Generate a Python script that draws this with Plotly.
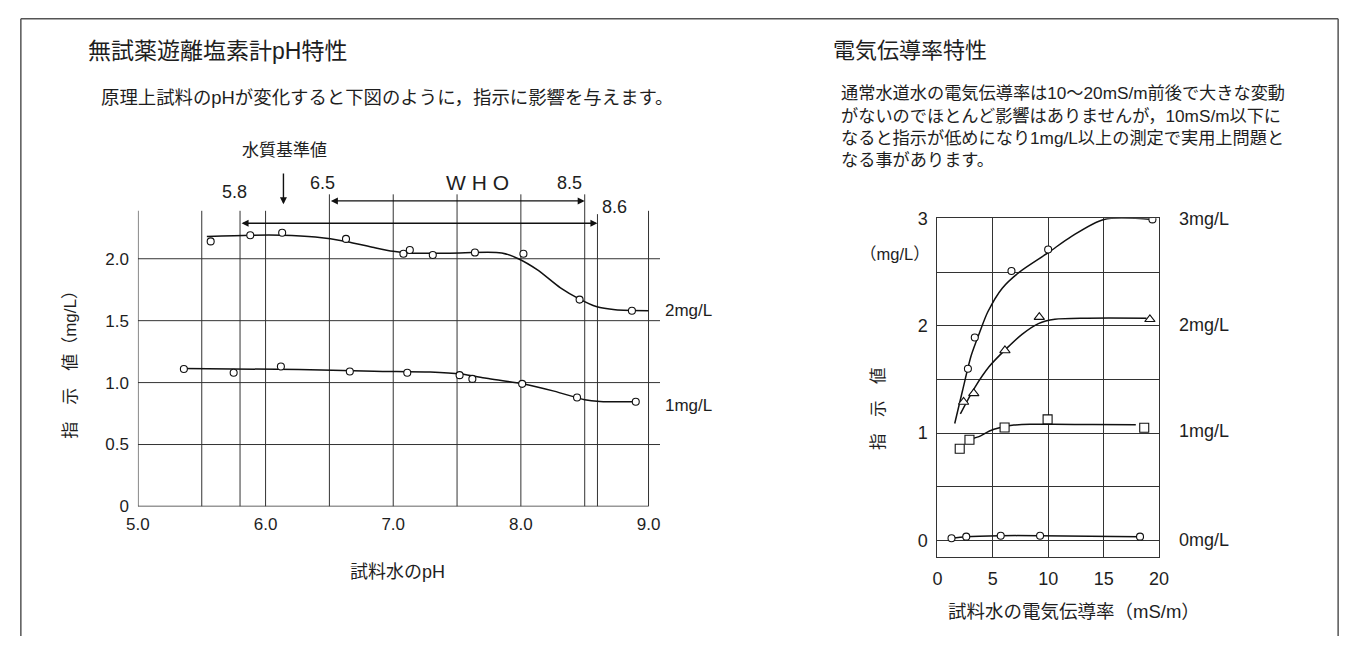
import plotly.graph_objects as go

# ---------------- data: left chart (pH characteristics) ----------------
ph_2mg_pts = [5.57, 5.88, 6.13, 6.63, 7.08, 7.13, 7.31, 7.64, 8.02, 8.46, 8.87]
val_2mg_pts = [2.14, 2.19, 2.21, 2.16, 2.04, 2.07, 2.03, 2.05, 2.04, 1.67, 1.58]
ph_2mg_curve = [5.54, 5.88, 6.13, 6.39, 6.63, 6.85, 7.00, 7.14, 7.44, 7.85, 7.98, 8.13, 8.31, 8.46, 8.59, 8.74, 9.00]
val_2mg_curve = [2.18, 2.19, 2.19, 2.175, 2.14, 2.09, 2.06, 2.045, 2.045, 2.047, 2.0, 1.91, 1.765, 1.674, 1.614, 1.588, 1.581]

ph_1mg_pts = [5.36, 5.75, 6.12, 6.66, 7.11, 7.52, 7.62, 8.01, 8.44, 8.90]
val_1mg_pts = [1.11, 1.08, 1.13, 1.09, 1.08, 1.06, 1.03, 0.99, 0.88, 0.845]
ph_1mg_curve = [5.36, 6.26, 6.85, 7.29, 7.53, 7.73, 8.01, 8.26, 8.50, 8.62, 8.91]
val_1mg_curve = [1.113, 1.106, 1.092, 1.085, 1.069, 1.035, 0.991, 0.931, 0.861, 0.847, 0.845]

ph_ref_lines = [5.5, 5.8, 6.0, 6.5, 7.0, 7.5, 8.0, 8.5, 8.6, 9.0]
ph_ticks = [5.0, 6.0, 7.0, 8.0, 9.0]
ph_ticktext = ["5.0", "6.0", "7.0", "8.0", "9.0"]
left_yticks = [0, 0.5, 1.0, 1.5, 2.0]
left_yticktext = ["0", "0.5", "1.0", "1.5", "2.0"]

# ---------------- data: right chart (conductivity characteristics) ----------------
ec_3mg_pts = [2.75, 3.37, 6.68, 9.99, 19.4]
val_3mg_pts = [1.60, 1.89, 2.51, 2.71, 2.99]
ec_3mg_curve = [1.56, 2.25, 3.04, 3.78, 4.55, 5.85, 7.4, 9.99, 12.07, 15.02, 19.4]
val_3mg_curve = [1.09, 1.39, 1.72, 1.93, 2.13, 2.35, 2.50, 2.68, 2.83, 2.99, 2.99]

ec_2mg_pts = [2.36, 3.28, 6.09, 9.19, 19.17]
val_2mg_pts_r = [1.29, 1.37, 1.77, 2.08, 2.06]
ec_2mg_curve = [2.07, 3.34, 4.67, 6.15, 7.63, 9.11, 10.59, 13.54, 18.87]
val_2mg_curve_r = [1.18, 1.42, 1.62, 1.78, 1.92, 2.02, 2.06, 2.07, 2.07]

ec_1mg_pts = [2.01, 2.89, 6.06, 9.94, 18.66]
val_1mg_pts_r = [0.854, 0.939, 1.053, 1.128, 1.050]
ec_1mg_curve = [2.89, 3.9, 4.7, 5.6, 6.9, 8.5, 10.5, 14.0, 17.9]
val_1mg_curve_r = [0.94, 0.975, 1.02, 1.05, 1.075, 1.082, 1.082, 1.08, 1.078]

ec_0mg_pts = [1.27, 2.60, 5.71, 9.26, 18.28]
val_0mg_pts = [0.021, 0.036, 0.045, 0.045, 0.036]

ec_ticks = [0, 5, 10, 15, 20]
right_yticks = [0, 1, 2, 3]

# ---------------- figure ----------------
W, H = 1356, 646
FONT = "Liberation Sans, Arial, Noto Sans CJK JP, sans-serif"
INK = "#1e1e1e"
GRID = "#333333"


def px(x):
    return x / W


def py(y):
    return 1 - y / H


fig = go.Figure()

line_style = dict(color="#111111", width=1.5)
mk_circle = dict(symbol="circle", size=7, color="white", line=dict(color="#111111", width=1.1))

# left chart traces
fig.add_trace(go.Scatter(x=ph_2mg_curve, y=val_2mg_curve, mode="lines", line=dict(shape="spline", smoothing=0.8, **line_style),
                         xaxis="x", yaxis="y", showlegend=False, hoverinfo="skip"))
fig.add_trace(go.Scatter(x=ph_2mg_pts, y=val_2mg_pts, mode="markers", marker=mk_circle, xaxis="x", yaxis="y", showlegend=False))
fig.add_trace(go.Scatter(x=ph_1mg_curve, y=val_1mg_curve, mode="lines", line=dict(shape="spline", smoothing=0.8, **line_style),
                         xaxis="x", yaxis="y", showlegend=False, hoverinfo="skip"))
fig.add_trace(go.Scatter(x=ph_1mg_pts, y=val_1mg_pts, mode="markers", marker=mk_circle, xaxis="x", yaxis="y", showlegend=False))

# right chart traces
fig.add_trace(go.Scatter(x=ec_3mg_curve, y=val_3mg_curve, mode="lines", line=dict(shape="spline", smoothing=0.8, **line_style),
                         xaxis="x2", yaxis="y2", showlegend=False, hoverinfo="skip"))
fig.add_trace(go.Scatter(x=ec_3mg_pts, y=val_3mg_pts, mode="markers", marker=mk_circle, xaxis="x2", yaxis="y2", showlegend=False))
fig.add_trace(go.Scatter(x=ec_2mg_curve, y=val_2mg_curve_r, mode="lines", line=dict(shape="spline", smoothing=0.8, **line_style),
                         xaxis="x2", yaxis="y2", showlegend=False, hoverinfo="skip"))
fig.add_trace(go.Scatter(x=ec_2mg_pts, y=val_2mg_pts_r, mode="markers",
                         marker=dict(symbol="triangle-up", size=9, color="white", line=dict(color="#111111", width=1.1)),
                         xaxis="x2", yaxis="y2", showlegend=False))
fig.add_trace(go.Scatter(x=ec_1mg_curve, y=val_1mg_curve_r, mode="lines", line=dict(shape="spline", smoothing=0.8, **line_style),
                         xaxis="x2", yaxis="y2", showlegend=False, hoverinfo="skip"))
fig.add_trace(go.Scatter(x=ec_1mg_pts, y=val_1mg_pts_r, mode="markers",
                         marker=dict(symbol="square", size=9, color="white", line=dict(color="#111111", width=1.1)),
                         xaxis="x2", yaxis="y2", showlegend=False))
fig.add_trace(go.Scatter(x=ec_0mg_pts, y=val_0mg_pts, mode="lines+markers", line=dict(shape="spline", smoothing=0.8, **line_style),
                         marker=mk_circle, xaxis="x2", yaxis="y2", showlegend=False))

# ---------------- axes ----------------
L_X0, L_X1 = 128, 658.7      # pixel extent for pH 5.0 .. 9.09
L_Y0, L_Y1 = 512.3, 180.0    # pixel extent for 0 .. 2.6
R_X0, R_X1 = 940.7, 1166.0
R_Y0, R_Y1 = 564.1, 215.0

tickfont = dict(family=FONT, size=17, color=INK)
tickfont_r = dict(family=FONT, size=18, color=INK)

fig.update_layout(
    width=W, height=H, autosize=False,
    margin=dict(l=0, r=0, t=0, b=0),
    paper_bgcolor="white", plot_bgcolor="white",
    font=dict(family=FONT, color=INK),
    xaxis=dict(domain=[px(L_X0), px(L_X1)], range=[5.0, 9.09], tickvals=ph_ticks, ticktext=ph_ticktext,
               showgrid=False, zeroline=False, showline=False, ticks="", ticklabelstandoff=6,
               tickfont=tickfont, anchor="y", fixedrange=True),
    yaxis=dict(domain=[py(L_Y0), py(L_Y1)], range=[0, 2.6], tickvals=left_yticks, ticktext=left_yticktext,
               showgrid=False, zeroline=False, showline=False, ticks="", ticklabelstandoff=8,
               tickfont=tickfont, anchor="x", fixedrange=True),
    xaxis2=dict(domain=[px(R_X0), px(R_X1)], range=[0, 20], tickvals=ec_ticks,
                showgrid=True, gridcolor=GRID, gridwidth=1, zeroline=False,
                showline=True, linecolor=GRID, linewidth=1.2, mirror=True, ticks="", ticklabelstandoff=6,
                tickfont=tickfont_r, anchor="y2", fixedrange=True),
    yaxis2=dict(domain=[py(R_Y0), py(R_Y1)], range=[-0.15, 3], tickvals=right_yticks,
                showgrid=True, gridcolor=GRID, gridwidth=1, zeroline=False,
                minor=dict(tickvals=[0.5, 1.5, 2.5], showgrid=True, gridcolor=GRID, gridwidth=1, ticks=""),
                showline=True, linecolor=GRID, linewidth=1.2, mirror=True, ticks="", ticklabelstandoff=5,
                tickfont=tickfont_r, anchor="x2", fixedrange=True),
)

shapes = []
# left horizontal gridlines (extend slightly past 9.0)
for v in left_yticks[1:]:
    shapes.append(dict(type="line", xref="x", yref="y", x0=5.0, x1=9.09, y0=v, y1=v,
                       line=dict(color=GRID, width=1), layer="below"))
# left bottom axis and left y axis
shapes.append(dict(type="line", xref="x", yref="y", x0=5.0, x1=9.0, y0=0, y1=0, line=dict(color=GRID, width=1.2), layer="below"))
shapes.append(dict(type="line", xref="x", yref="y", x0=5.0, x1=5.0, y0=0, y1=2.387, line=dict(color=GRID, width=1.2), layer="below"))
# vertical reference lines
tall = {6.5, 7.0, 7.5, 8.0, 8.5}
for v in ph_ref_lines:
    top = 2.52 if v in tall else (2.36 if v == 8.6 else 2.387)
    shapes.append(dict(type="line", xref="x", yref="y", x0=v, x1=v, y0=0, y1=top,
                       line=dict(color=GRID, width=1), layer="below"))

# outer frame
shapes.append(dict(type="line", xref="paper", yref="paper", x0=px(9), x1=px(9), y0=0, y1=py(9), line=dict(color="#555555", width=1.5)))
shapes.append(dict(type="line", xref="paper", yref="paper", x0=px(9), x1=px(1348), y0=py(9), y1=py(9), line=dict(color="#555555", width=1.5)))
shapes.append(dict(type="line", xref="paper", yref="paper", x0=px(1348), x1=px(1348), y0=0, y1=py(9), line=dict(color="#555555", width=1.5)))
fig.update_layout(shapes=shapes)

ann = []


def text(x, y, s, size=14, xanchor="left", yanchor="middle", **kw):
    ann.append(dict(x=px(x), y=py(y), xref="paper", yref="paper", text=s, showarrow=False,
                    xanchor=xanchor, yanchor=yanchor, font=dict(family=FONT, size=size, color=INK), **kw))


# titles
text(75, 42, "無試薬遊離塩素計pH特性", size=23)
text(832, 42, "電気伝導率特性", size=22)
text(88, 90, "原理上試料のpHが変化すると下図のように，指示に影響を与えます。", size=18.4)
para = ["通常水道水の電気伝導率は10～20mS/m前後で大きな変動",
        "がないのでほとんど影響はありませんが，10mS/m以下に",
        "なると指示が低めになり1mg/L以上の測定で実用上問題と",
        "なる事があります。"]
for i, s in enumerate(para):
    text(841, 86 + i * 23, s, size=17.2)

# left chart labels
text(277, 145, "水質基準値", size=17, xanchor="center")
text(226, 188, "5.8", size=18, xanchor="center")
text(316, 179, "6.5", size=18, xanchor="center")
text(473, 178, "W H O", size=21, xanchor="center")
text(567, 179, "8.5", size=18, xanchor="center")
text(612, 203, "8.6", size=18, xanchor="center")
text(662, 310, "2mg/L", size=17)
text(662, 408, "1mg/L", size=17)
text(392, 580, "試料水のpH", size=18, xanchor="center")
text(60, 362, "指　示　値（mg/L）", size=17, xanchor="center", textangle=-90)

# right chart labels
text(1184, 216, "3mg/L", size=18)
text(1184, 325, "2mg/L", size=18)
text(1184, 434, "1mg/L", size=18)
text(1184, 547, "0mg/L", size=18)
text(898, 252, "（mg/L）", size=16.5, xanchor="center")
text(881, 411, "指　示　値", size=16.5, xanchor="center", textangle=-90)
text(1080, 621, "試料水の電気伝導率（mS/m）", size=18.5, xanchor="center")

# arrows
ann.append(dict(x=6.14, y=2.44, ax=6.14, ay=2.70, xref="x", yref="y", axref="x", ayref="y", text="",
                showarrow=True, arrowhead=2, arrowsize=1, arrowwidth=1.4, arrowcolor="#111111"))
ann.append(dict(x=8.5, y=2.467, ax=6.5, ay=2.467, xref="x", yref="y", axref="x", ayref="y", text="",
                showarrow=True, arrowhead=2, arrowside="end+start", arrowsize=1, arrowwidth=1.4, arrowcolor="#111111"))
ann.append(dict(x=8.6, y=2.287, ax=5.8, ay=2.287, xref="x", yref="y", axref="x", ayref="y", text="",
                showarrow=True, arrowhead=2, arrowside="end+start", arrowsize=1, arrowwidth=1.4, arrowcolor="#111111"))

fig.update_layout(annotations=ann)

fig.write_html("out.html", config={"displayModeBar": False},
               post_script="document.body.style.margin='0';document.body.style.padding='0';"
                           "document.body.style.overflow='hidden';")
